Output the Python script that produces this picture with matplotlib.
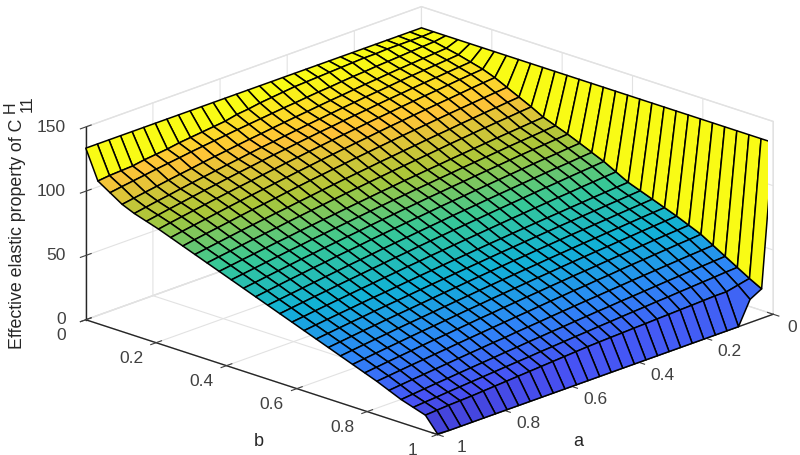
import numpy as np
import matplotlib
matplotlib.use("Agg")
import matplotlib.pyplot as plt
from matplotlib.colors import LinearSegmentedColormap, Normalize

plt.rcParams['font.family'] = ['Liberation Sans', 'DejaVu Sans']

# grid of the surface, 30 points along a and b
a_vals = [0, .0345, .069, .1034, .1379, .1724, .2069, .2414, .2759, .3103,
          .3448, .3793, .4138, .4483, .4828, .5172, .5517, .5862, .6207, .6552,
          .6897, .7241, .7586, .7931, .8276, .8621, .8966, .931, .9655, 1]
b_vals = list(a_vals)

a_ticks = [0, 0.2, 0.4, 0.6, 0.8, 1]
b_ticks = [0, 0.2, 0.4, 0.6, 0.8, 1]
z_ticks = [0, 50, 100, 150]

# C11, one row per b value, a goes left to right
c11_rows = [
    [133.5] * 30,
    [133.5,133,133,133,133,132.5,132.5,132,131.5,131,130.5,130,129.5,128.5,127.5,126.5,125,124,122,121,120,119,118,116.5,115.5,114.5,113,112.5,112,111],
    [133.5,132,131.5,130.9,130.2,129.6,129,128.2,127.6,126.8,125.9,125.2,124.3,123.3,122.5,121.5,120.5,119.5,118.5,117.4,116.3,115.2,114.1,112.8,111.6,110.4,109,107.7,106.4,105],
    [133.5,130,129.3,128.6,127.8,127.1,126.3,125.4,124.6,123.6,122.6,121.7,120.7,119.6,118.6,117.5,116.4,115.2,114.1,112.9,111.6,110.4,109.1,107.6,106.3,104.9,103.4,102,100.5,99],
    [133.5,128,127.2,126.4,125.6,124.8,123.9,122.9,122,121.1,120,119,117.9,116.8,115.7,114.5,113.3,112,110.9,109.6,108.2,106.9,105.5,104.1,102.7,101.2,99.6,98.2,96.6,95],
    [133.5,125.5,124.7,123.9,123,122.2,121.3,120.3,119.4,118.4,117.3,116.3,115.2,114,113,111.8,110.6,109.3,108.1,106.8,105.4,104.1,102.7,101.2,99.8,98.3,96.7,95.2,93.6,92],
    [133.5,123,122.2,121.3,120.3,119.3,118.4,117.4,116.4,115.3,114.3,113.2,112,110.9,109.7,108.5,107.3,106,104.8,103.4,102.1,100.7,99.4,98,96.6,95.1,93.6,92.1,90.6,89],
    [133.5,119.5,118.7,117.8,116.8,115.8,114.9,113.9,112.9,111.8,110.8,109.7,108.5,107.4,106.2,105,103.8,102.5,101.3,99.9,98.6,97.2,95.9,94.5,93.1,91.6,90.1,88.6,87.1,85.5],
    [133.5,115,114.2,113.3,112.4,111.5,110.6,109.6,108.6,107.6,106.6,105.5,104.4,103.3,102.2,101,99.8,98.6,97.4,96.1,94.8,93.4,92.1,90.8,89.4,87.9,86.5,85.1,83.6,82],
    [133.5,110.5,109.7,108.7,107.9,106.9,106,104.9,104,103,101.9,100.9,99.8,98.8,97.6,96.5,95.4,94.2,93,91.7,90.5,89.2,88,86.7,85.4,84.1,82.7,81.3,79.9,78.5],
    [133.5,106,105.2,104.3,103.5,102.6,101.7,100.7,99.8,98.7,97.7,96.7,95.7,94.7,93.6,92.5,91.4,90.3,89.1,87.9,86.7,85.5,84.3,82.9,81.7,80.4,79.1,77.7,76.4,75],
    [133.5,101,100.2,99.4,98.6,97.8,96.9,96,95.1,94.2,93.2,92.3,91.3,90.4,89.3,88.3,87.2,86.1,85,83.8,82.7,81.5,80.4,79.1,78,76.7,75.4,74.1,72.8,71.5],
    [133.5,97.5,96.7,95.9,95.1,94.3,93.4,92.5,91.6,90.7,89.7,88.8,87.8,86.9,85.8,84.8,83.7,82.6,81.5,80.3,79.2,78,76.9,75.6,74.5,73.2,71.9,70.6,69.3,68],
    [133.5,94,93.2,92.4,91.6,90.8,89.9,89,88.1,87.2,86.2,85.3,84.3,83.4,82.3,81.3,80.2,79.1,78,76.8,75.7,74.5,73.4,72.1,71,69.7,68.4,67.1,65.8,64.5],
    [133.5,90,89.3,88.4,87.7,86.9,86,85.1,84.2,83.3,82.4,81.4,80.5,79.6,78.5,77.5,76.5,75.4,74.3,73.2,72,70.9,69.8,68.5,67.4,66.1,64.9,63.6,62.3,61],
    [133.5,86,85.3,84.4,83.7,82.9,82,81.1,80.2,79.3,78.4,77.4,76.5,75.6,74.5,73.5,72.5,71.4,70.4,69.3,68.1,67,65.9,64.7,63.5,62.3,61.1,59.9,58.7,57.5],
    [133.5,82,81.2,80.4,79.6,78.7,77.9,77,76.1,75.2,74.3,73.4,72.4,71.5,70.5,69.5,68.5,67.5,66.4,65.4,64.3,63.2,62.1,61,59.9,58.7,57.6,56.4,55.2,54],
    [133.5,77,76.3,75.5,74.8,73.9,73.2,72.3,71.5,70.6,69.8,68.9,68,67.1,66.2,65.3,64.3,63.4,62.3,61.4,60.3,59.3,58.2,57.2,56.1,55,53.9,52.8,51.6,50.5],
    [133.5,72,71.3,70.6,69.9,69.1,68.4,67.6,66.9,66.1,65.3,64.5,63.6,62.8,61.9,61,60.1,59.2,58.2,57.3,56.3,55.3,54.3,53.4,52.4,51.3,50.3,49.2,48.1,47],
    [133.5,68.5,67.8,67.1,66.4,65.6,64.9,64.1,63.4,62.6,61.8,61,60.1,59.3,58.4,57.5,56.6,55.7,54.7,53.8,52.8,51.8,50.8,49.9,48.9,47.8,46.8,45.7,44.6,43.5],
    [133.5,65,64.3,63.6,62.9,62.1,61.4,60.6,59.9,59.1,58.3,57.5,56.6,55.8,54.9,54,53.1,52.2,51.2,50.3,49.3,48.3,47.3,46.4,45.4,44.3,43.3,42.2,41.1,40],
    [133.5,61.5,60.8,60.1,59.4,58.6,57.9,57.1,56.4,55.6,54.8,54,53.1,52.3,51.4,50.5,49.6,48.7,47.7,46.8,45.8,44.8,43.8,42.9,41.9,40.8,39.8,38.7,37.6,36.5],
    [133.5,58,57.3,56.6,55.9,55.1,54.4,53.6,52.9,52.1,51.3,50.5,49.6,48.8,47.9,47,46.1,45.2,44.2,43.3,42.3,41.3,40.3,39.4,38.4,37.3,36.3,35.2,34.1,33],
    [133.5,54,53.3,52.7,52,51.2,50.5,49.8,49,48.2,47.4,46.7,45.8,45,44.1,43.3,42.4,41.5,40.5,39.7,38.7,37.7,36.7,35.8,34.8,33.7,32.7,31.7,30.6,29.5],
    [133.5,50,49.2,48.6,47.8,47.1,46.3,45.6,44.8,43.9,43.2,42.3,41.6,40.7,39.9,39,38.1,37.3,36.4,35.5,34.6,33.7,32.8,31.8,30.9,29.9,29,28,27,26],
    [133.5,44.5,43.8,43.2,42.5,41.8,41.1,40.4,39.7,38.9,38.2,37.4,36.7,35.9,35.1,34.3,33.4,32.6,31.8,30.8,30.1,29.2,28.4,27.5,26.6,25.7,24.8,23.9,23,22],
    [133.5,39,38.4,37.8,37.2,36.5,35.9,35.2,34.5,33.8,33.2,32.4,31.8,31,30.3,29.5,28.8,28,27.3,26.4,25.7,24.8,24,23.2,22.4,21.5,20.7,19.8,18.9,18],
    [133.5,33.5,33,32.3,31.7,31.1,30.5,29.8,29.3,28.6,28,27.4,26.7,26.1,25.4,24.8,24.1,23.4,22.8,22,21.4,20.7,20,19.3,18.6,17.9,17.2,16.4,15.8,15],
    [133.5,28,26,24,24,23.6,23.2,22.9,22.5,22.2,21.8,21.5,21.1,20.8,20.4,20,19.4,18.8,18.2,17.6,17,16.4,15.8,15.2,14.6,14,13.6,13.2,12.6,12],
    [133.5,23,18,0,0,0,0,0,0,0,0,0,0,0,0,0,0,0,0,0,0,0,0,0,0,0,0,0,0,0.5],
]

# parula colours
parula = LinearSegmentedColormap.from_list("parula", [
    (0.2422, 0.1504, 0.6603), (0.2810, 0.3228, 0.9579), (0.1786, 0.5289, 0.9682),
    (0.0689, 0.6948, 0.8394), (0.2161, 0.7843, 0.5923), (0.6720, 0.7793, 0.2227),
    (0.9970, 0.7659, 0.2199), (0.9769, 0.9839, 0.0805),
])

A, B = np.meshgrid(a_vals, b_vals)
Z = np.array(c11_rows)
face_colors = parula(Normalize(0, Z.max())(Z))

fig = plt.figure(figsize=(8, 4.55), dpi=100)
ax = fig.add_axes([0.0896, -0.271, 0.871, 1.531], projection='3d')
ax.set_proj_type('ortho')
ax.view_init(elev=20, azim=43.66)
ax.set_box_aspect((1, 1, 0.422))

ax.plot_surface(A, B, Z, facecolors=face_colors, rstride=1, cstride=1,
                edgecolor='black', linewidth=1.1, shade=False, antialiased=True)

# no extra margin, the surface has to reach the box corners
ax.set_xlim(0, 1, view_margin=0)
ax.set_ylim(0, 1, view_margin=0)
ax.set_zlim(0, 150, view_margin=0)
ax.set_xticks(a_ticks)
ax.set_yticks(b_ticks)
ax.set_zticks(z_ticks)
ax.set_xticklabels(['0', '0.2', '0.4', '0.6', '0.8', '1'], va='bottom')
ax.set_yticklabels(['0', '0.2', '0.4', '0.6', '0.8', '1'], va='bottom')
ax.set_zticklabels(['0', '50', '100', '150'], va='center', ha='right')

for axis in (ax.xaxis, ax.yaxis, ax.zaxis):
    axis.set_pane_color((1, 1, 1, 1))
    axis.pane.set_edgecolor('#e2e2e2')
    axis.line.set_color('#262626')
    axis.line.set_linewidth(1.0)
    axis._axinfo['grid'].update(color='#e2e2e2', linewidth=0.8)
    axis._axinfo['tick'].update(color='#262626', inward_factor=0.2, outward_factor=0.2)

ax.tick_params(labelsize=12.5, colors='#404040')
ax.tick_params(axis='x', pad=9.5)
ax.tick_params(axis='y', pad=11.5)
ax.tick_params(axis='z', pad=-0.5)
ax.zaxis.set_ticks_position('lower')

# the a = 0 label would run off the right edge
ax.xaxis.get_major_ticks()[0].label1.set_ha('right')

fig.text(578 / 800, 1 - 441 / 455, 'a', fontsize=13, color='#262626', ha='center', va='center')
fig.text(259 / 800, 1 - 441 / 455, 'b', fontsize=13, color='#262626', ha='center', va='center')

# label in three pieces, the H and the 11 are nearly full size in the original
fig.text(18 / 800, 1 - 349 / 455, 'Effective elastic property of C', fontsize=12.8,
         color='#262626', rotation=90, ha='center', va='bottom')
fig.text(10 / 800, 1 - 107 / 455, 'H', fontsize=11.5, color='#262626', rotation=90, ha='center', va='center')
fig.text(27.5 / 800, 1 - 104 / 455, '11', fontsize=11.5, color='#262626', rotation=90, ha='center', va='center')

fig.savefig('out.png', dpi=100)
